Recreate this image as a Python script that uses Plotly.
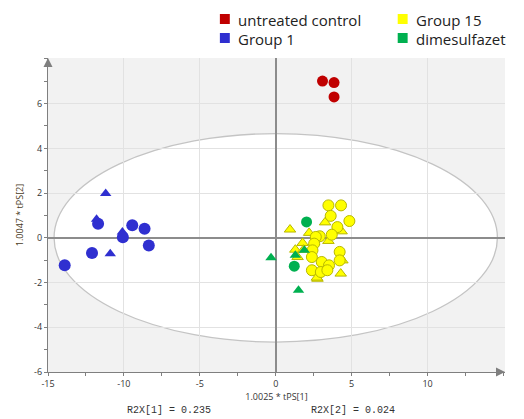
import plotly.graph_objects as go

# ---- data ----
red_circle_x = [3.08, 3.84, 3.84]
red_circle_y = [7.01, 6.94, 6.30]

blue_circle_x = [-13.9, -12.1, -11.7, -10.07, -9.45, -8.64, -8.36]
blue_circle_y = [-1.23, -0.68, 0.63, 0.02, 0.56, 0.41, -0.34]
blue_tri_x = [-11.8, -11.2, -10.9, -10.1]
blue_tri_y = [0.83, 1.98, -0.71, 0.26]

yellow_circle_x = [3.47, 4.30, 3.62, 4.85, 4.06, 3.69, 2.90, 2.64, 2.53, 2.42, 2.38, 3.03,
                   3.51, 2.38, 2.97, 3.40, 4.21, 4.21]
yellow_circle_y = [1.45, 1.45, 0.98, 0.75, 0.48, 0.14, 0.07, 0.04, -0.26, -0.56, -0.86, -1.08,
                   -1.23, -1.45, -1.53, -1.45, -0.63, -1.01]
yellow_tri_x = [0.94, 3.25, 4.34, 3.47, 2.20, 1.77, 1.29, 1.44, 4.39, 4.28, 2.75, 2.53, 1.83, 2.71]
yellow_tri_y = [0.37, 0.69, 0.29, -0.14, 0.22, -0.23, -0.53, -0.86, -1.01, -1.60, -1.83, -0.20,
                -0.53, -1.78]

green_circle_x = [2.03, 1.22]
green_circle_y = [0.71, -1.27]
green_tri_x = [-0.31, 1.50, 1.88, 1.29]
green_tri_y = [-0.89, -2.35, -0.56, -0.78]

legend_names = ["untreated control", "Group 15", "Group 1", "dimesulfazet"]
legend_colors = ["#c00000", "#ffff00", "#2f2fd0", "#00b050"]

x_tickvals = [-15, -10, -5, 0, 5, 10]
x_ticktext = ["-15", "-10", "-5", "0", "5", "10"]
y_tickvals = [-6, -4, -2, 0, 2, 4, 6]
y_ticktext = ["-6", "-4", "-2", "0", "2", "4", "6"]

ellipse_a = 14.6
ellipse_b = 4.66

x_title = "1.0025 * tPS[1]"
y_title = "1.0047 * tPS[2]"
r2x_labels = ["R2X[1] = 0.235", "R2X[2] = 0.024"]

# ---- figure ----
# the page body adds an 8px margin, so the figure is drawn 8px smaller and
# all window-pixel positions below are shifted by that offset
OFF = 8
W, H = 524 - OFF, 419 - OFF
ML, MT = 45 - OFF, 58 - OFF
MR = W - (505 - OFF)
MB = H - (372 - OFF)
PW, PH = W - ML - MR, H - MT - MB

def px_x(p):
    return (p - OFF - ML) / PW

def px_y(p):
    return (H - MB - (p - OFF)) / PH

RED, YEL, BLU, GRN = legend_colors[0], legend_colors[1], legend_colors[2], legend_colors[3]
fig = go.Figure()

def add(x, y, color, symbol, size, line_color):
    fig.add_trace(go.Scatter(
        x=x, y=y, mode="markers", showlegend=False, hoverinfo="skip",
        marker=dict(color=color, symbol=symbol, size=size,
                    line=dict(color=line_color, width=1 if line_color != color else 0))))

add(yellow_tri_x, yellow_tri_y, YEL, "triangle-up", 10, "#b8b800")
add(yellow_circle_x, yellow_circle_y, YEL, "circle", 11, "#b8b800")
add(green_tri_x, green_tri_y, GRN, "triangle-up", 10, GRN)
add(green_circle_x, green_circle_y, GRN, "circle", 11, GRN)
add(blue_tri_x, blue_tri_y, BLU, "triangle-up", 10, BLU)
add(blue_circle_x, blue_circle_y, BLU, "circle", 12, BLU)
add(red_circle_x, red_circle_y, RED, "circle", 11, RED)

fig.add_shape(type="circle", xref="x", yref="y",
              x0=-ellipse_a, x1=ellipse_a, y0=-ellipse_b, y1=ellipse_b,
              fillcolor="white", line=dict(color="#c4c4c4", width=1.3), layer="below")

# legend (two columns, drawn with shapes + text)
leg_sq_left = [218, 397, 218, 397]
leg_row_mid = [19, 19, 38, 38]
for name, col, sx, ry in zip(legend_names, legend_colors, leg_sq_left, leg_row_mid):
    fig.add_shape(type="rect", xref="paper", yref="paper",
                  x0=px_x(sx), x1=px_x(sx + 10), y0=px_y(ry + 5), y1=px_y(ry - 5),
                  fillcolor=col, line=dict(width=0))
    fig.add_annotation(x=px_x(sx + 17), y=px_y(ry + 1), xref="paper", yref="paper",
                       xanchor="left", yanchor="middle", text=name, showarrow=False,
                       borderpad=0,
                       font=dict(family="Open Sans", size=15, color="#222222"))

axis_common = dict(showgrid=True, gridcolor="#e2e2e2", gridwidth=1,
                   zeroline=True, zerolinecolor="#8c8c8c", zerolinewidth=1.5,
                   showline=True, linecolor="#7f7f7f", linewidth=1.2,
                   ticks="outside", ticklen=3, tickcolor="#7f7f7f",
                   tickfont=dict(family="Open Sans", size=9, color="#333333"))

fig.update_xaxes(range=[-15, 15.1], tickmode="array", tickvals=x_tickvals, ticktext=x_ticktext,
                 minor=dict(dtick=2.5, ticks="outside", ticklen=3, tickcolor="#7f7f7f", showgrid=False),
                 title=dict(text=x_title, font=dict(family="Open Sans", size=9, color="#333333"),
                            standoff=3),
                 **axis_common)
fig.update_yaxes(range=[-6, 8.04], tickmode="array", tickvals=y_tickvals, ticktext=y_ticktext,
                 minor=dict(dtick=1, ticks="outside", ticklen=3, tickcolor="#7f7f7f", showgrid=False),
                 title=dict(text=y_title, font=dict(family="Open Sans", size=9, color="#4a3c1e"),
                            standoff=8),
                 **axis_common)

# axis arrows
fig.add_annotation(x=1.0, y=0, xref="paper", yref="paper", ax=-10, ay=0, text="",
                   showarrow=True, arrowhead=2, arrowsize=1.2, arrowwidth=1.5, arrowcolor="#7f7f7f")
fig.add_annotation(x=0, y=1.0, xref="paper", yref="paper", ax=0, ay=10, text="",
                   showarrow=True, arrowhead=2, arrowsize=1.2, arrowwidth=1.5, arrowcolor="#7f7f7f")

for txt, xpix in zip(r2x_labels, [167, 352]):
    fig.add_annotation(x=px_x(xpix), y=px_y(410), xref="paper", yref="paper", text=txt,
                       showarrow=False, xanchor="center", yanchor="middle", borderpad=0,
                       font=dict(family="Liberation Mono", size=10, color="#333333"))

fig.update_layout(
    width=W, height=H,
    margin=dict(l=ML, r=MR, t=MT, b=MB),
    plot_bgcolor="#f2f2f2", paper_bgcolor="white",
    showlegend=False,
)

fig.write_html("out.html")
